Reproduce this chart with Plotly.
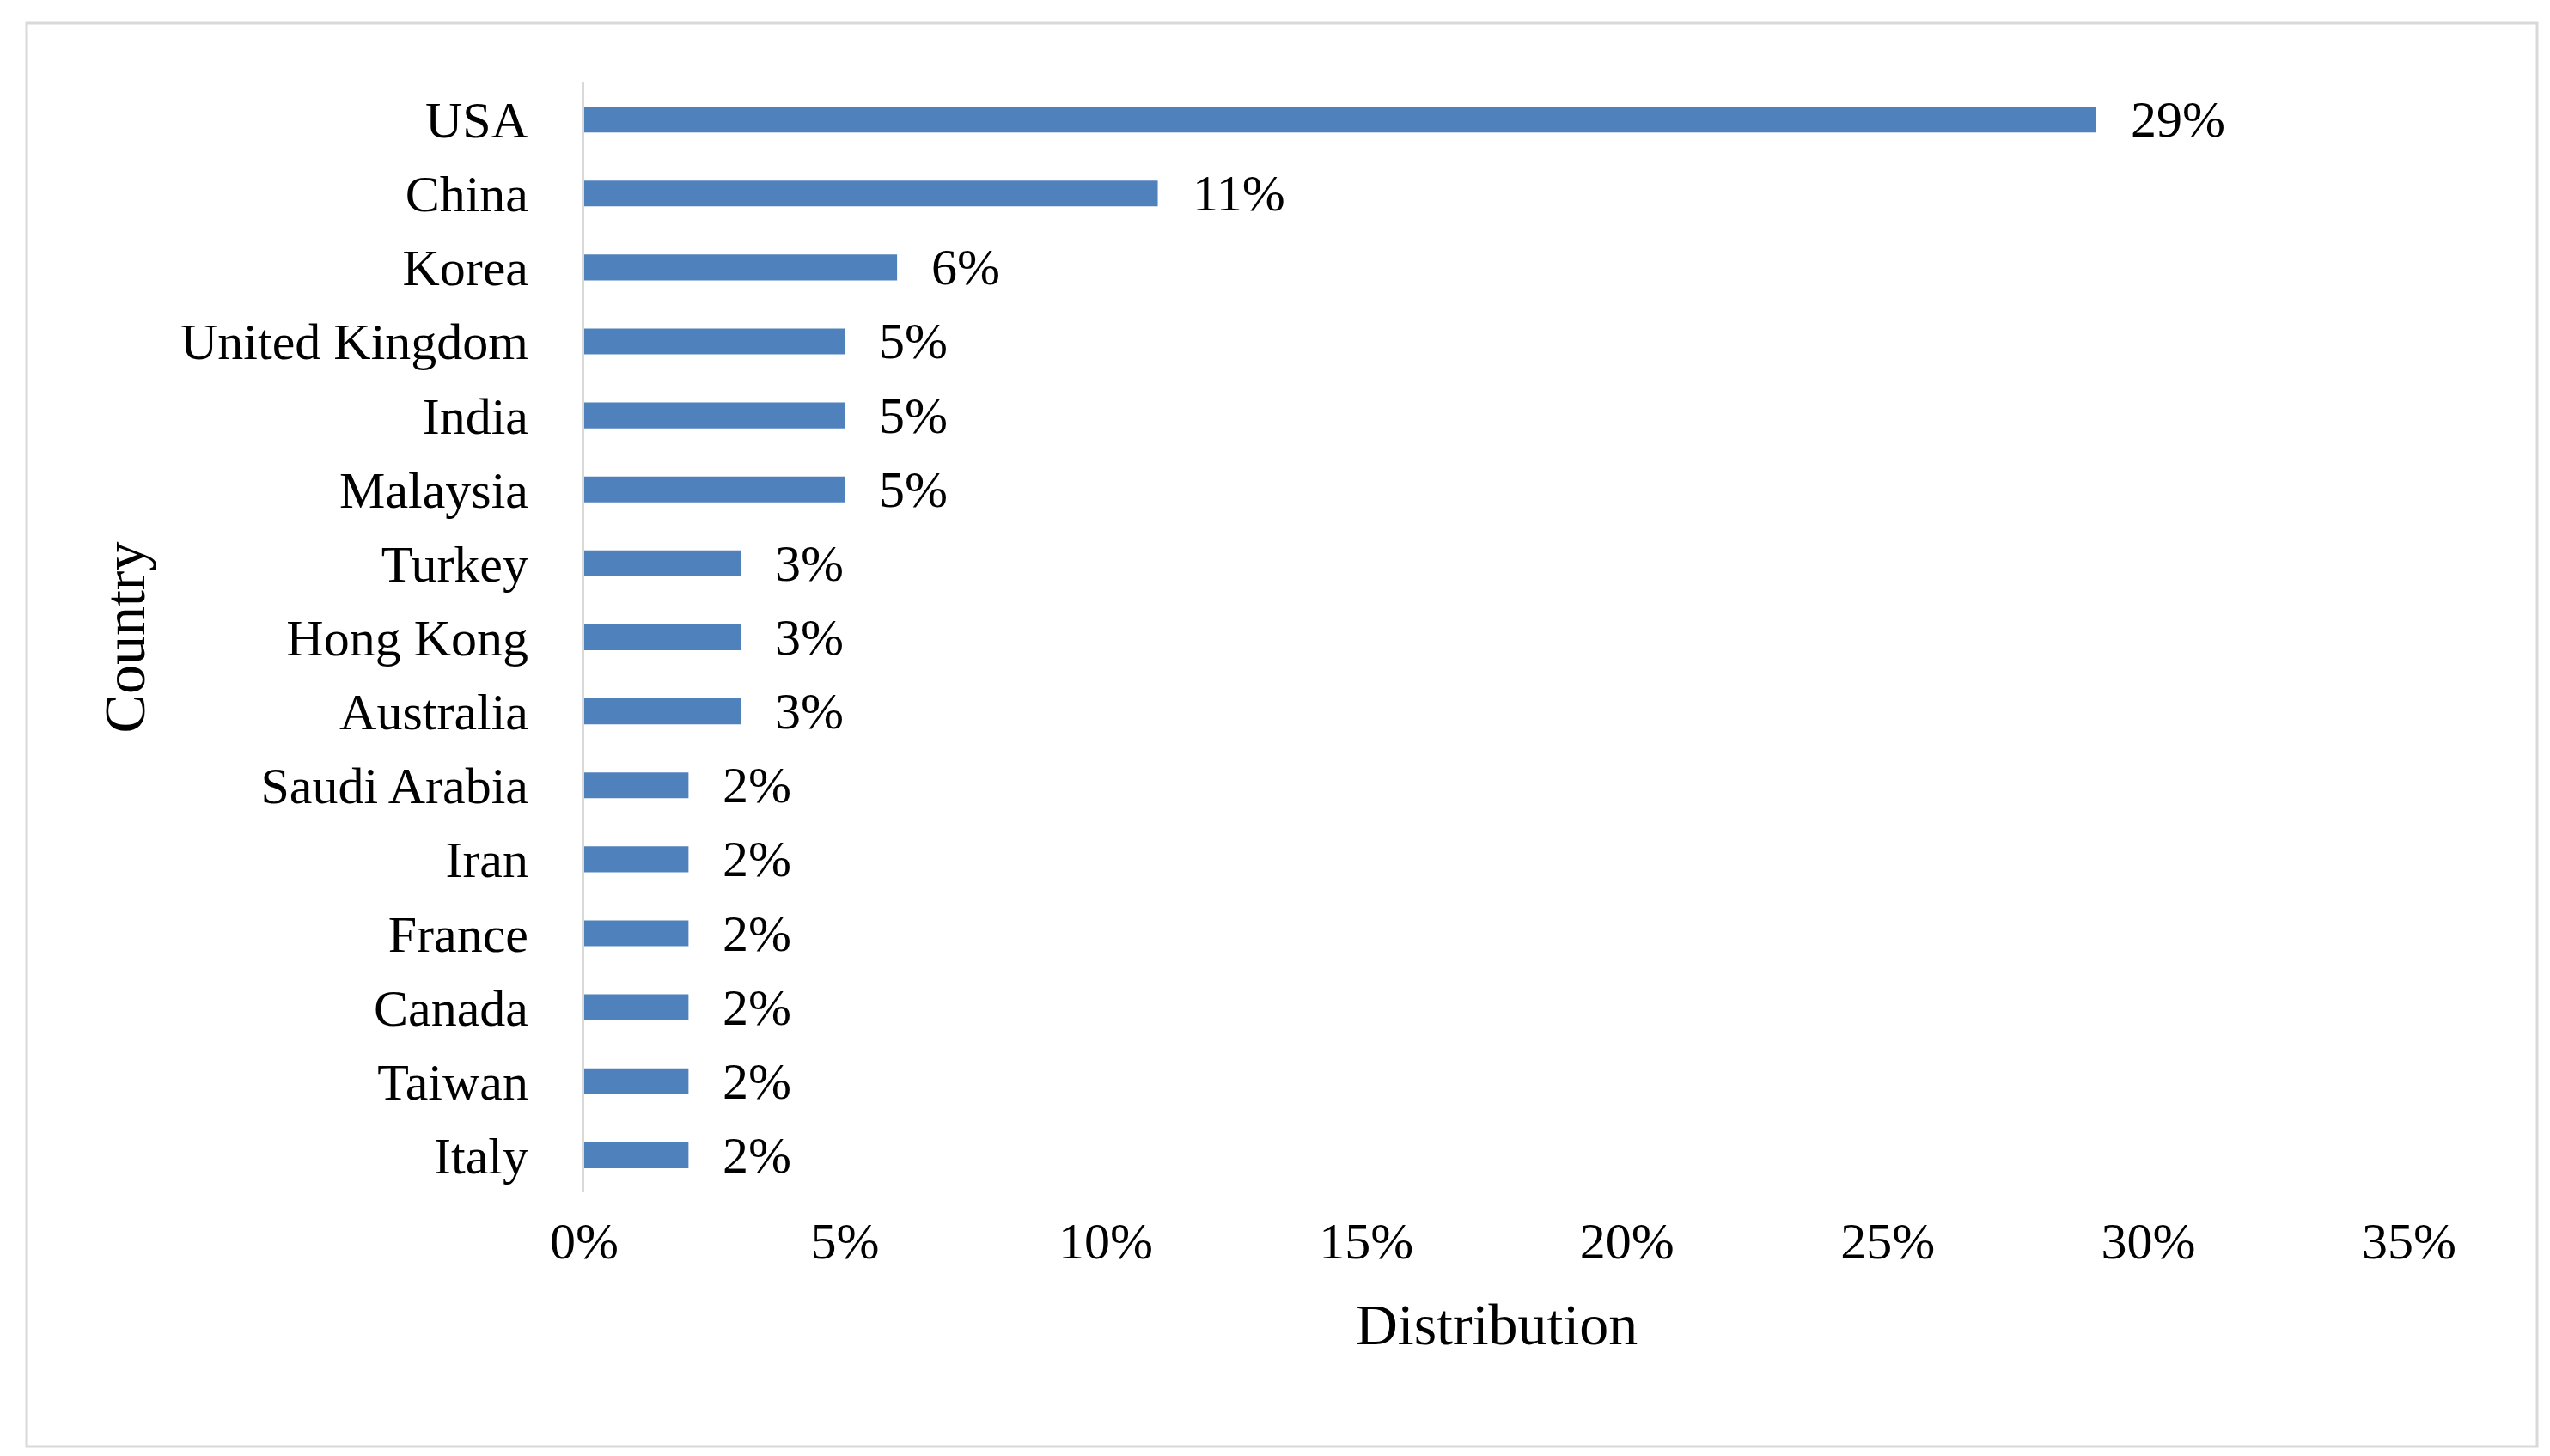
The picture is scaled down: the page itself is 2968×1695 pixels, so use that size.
import plotly.graph_objects as go

countries = ["USA", "China", "Korea", "United Kingdom", "India", "Malaysia",
             "Turkey", "Hong Kong", "Australia", "Saudi Arabia", "Iran",
             "France", "Canada", "Taiwan", "Italy"]
shares = [0.29, 0.11, 0.06, 0.05, 0.05, 0.05, 0.03, 0.03, 0.03,
          0.02, 0.02, 0.02, 0.02, 0.02, 0.02]
x_ticks = [0, 0.05, 0.10, 0.15, 0.20, 0.25, 0.30, 0.35]
x_tick_labels = ["0%", "5%", "10%", "15%", "20%", "25%", "30%", "35%"]

FONT = "Liberation Serif, Times New Roman, serif"
W, H = 2968, 1695
L, R, T, B = 672, 172, 88, 315

fig = go.Figure()
fig.add_trace(go.Bar(
    y=countries, x=shares, orientation="h",
    marker=dict(color="#4F81BD", line=dict(width=0)),
    width=0.35, hoverinfo="skip",
))

for c, v in zip(countries, shares):
    fig.add_annotation(x=v, y=c, xref="x", yref="y", text=f"{round(v*100)}%",
                       showarrow=False, xanchor="left", yanchor="middle",
                       xshift=38, font=dict(family=FONT, size=60, color="#000000"))

# outer frame
pw, ph = W - L - R, H - T - B
def px(xp): return (xp - L) / pw
def py(yp): return (H - B - yp) / ph
fig.add_shape(type="rect", xref="paper", yref="paper",
              x0=px(23), x1=px(2945), y0=py(1676), y1=py(19),
              line=dict(color="#D9D9D9", width=3), layer="below")

fig.update_layout(
    width=W, height=H,
    margin=dict(l=L, r=R, t=T, b=B, autoexpand=False),
    paper_bgcolor="white", plot_bgcolor="white",
    showlegend=False,
    font=dict(family=FONT, size=60, color="#000000"),
    xaxis=dict(range=[0, 0.35], tickvals=x_ticks, ticktext=x_tick_labels,
               showgrid=False, zeroline=False, showline=False, ticks="",
               ticklabelstandoff=16, tickfont=dict(family=FONT, size=60),
               title=dict(text="Distribution", font=dict(family=FONT, size=68),
                          standoff=40)),
    yaxis=dict(categoryorder="array", categoryarray=countries[::-1],
               showgrid=False, zeroline=False, showline=True,
               linecolor="#D9D9D9", linewidth=3, ticks="",
               ticklabelstandoff=50, tickfont=dict(family=FONT, size=60),
               title=dict(text="Country", font=dict(family=FONT, size=68),
                          standoff=20)),
)

fig.write_html("out.html")
